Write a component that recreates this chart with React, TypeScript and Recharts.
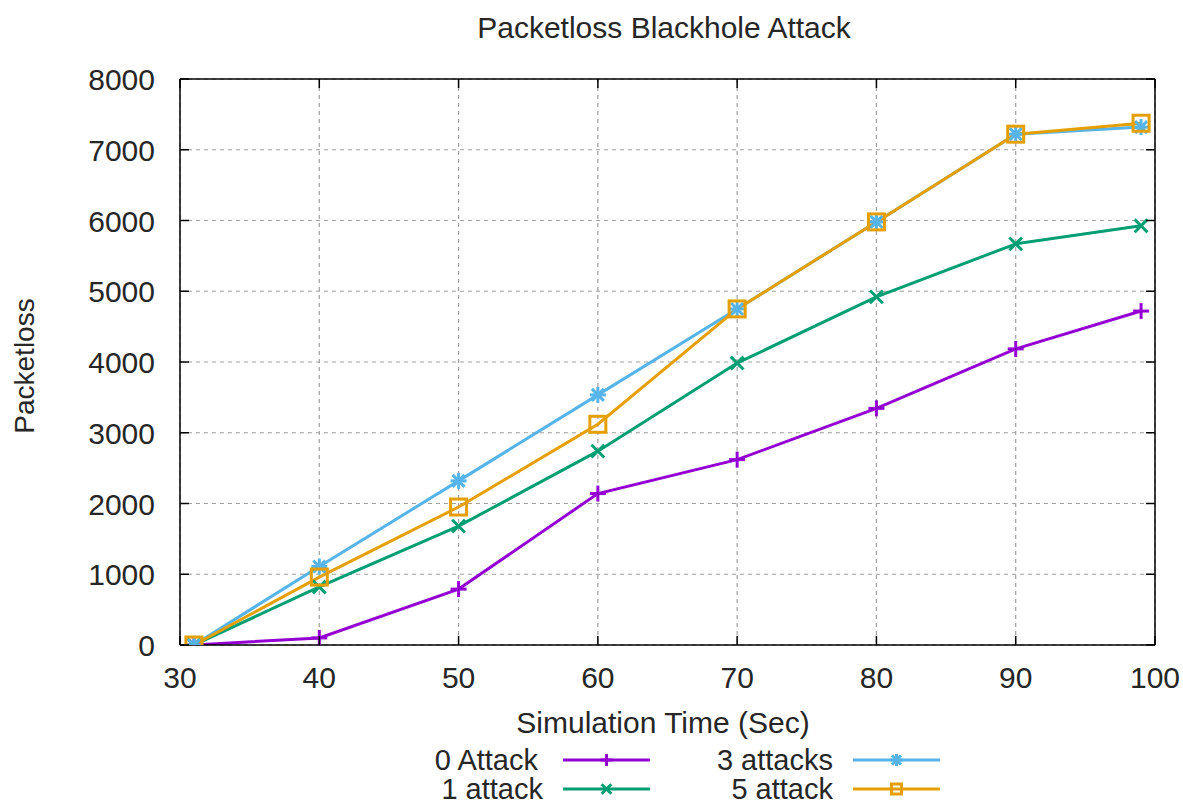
import React from 'react';
import { LineChart, Line, XAxis, YAxis, CartesianGrid } from 'recharts';

// ---- data ----
const times = [31, 40, 50, 60, 70, 80, 90, 99];
const attack0 = [0, 100, 790, 2140, 2620, 3345, 4185, 4720];
const attack1 = [0, 820, 1680, 2740, 3985, 4920, 5670, 5925];
const attack3 = [0, 1110, 2320, 3535, 4750, 5980, 7220, 7320];
const attack5 = [0, 960, 1950, 3120, 4750, 5980, 7220, 7375];
const xTicks = [30, 40, 50, 60, 70, 80, 90, 100];
const yTicks = [0, 1000, 2000, 3000, 4000, 5000, 6000, 7000, 8000];

const titleText = 'Packetloss Blackhole Attack';
const xLabel = 'Simulation Time (Sec)';
const yLabel = 'Packetloss';

type Shape = 'plus' | 'cross' | 'star' | 'square';
const seriesDefs: { key: string; name: string; color: string; shape: Shape; values: number[] }[] = [
  { key: 'a0', name: '0 Attack', color: '#9400D3', shape: 'plus', values: attack0 },
  { key: 'a1', name: '1 attack', color: '#009E73', shape: 'cross', values: attack1 },
  { key: 'a3', name: '3 attacks', color: '#56B4E9', shape: 'star', values: attack3 },
  { key: 'a5', name: '5 attack', color: '#E69F00', shape: 'square', values: attack5 },
];

const data = times.map((t, i) => {
  const row: Record<string, number> = { t };
  seriesDefs.forEach((s) => (row[s.key] = s.values[i]));
  return row;
});

const FONT = '"Liberation Sans", Arial, sans-serif';
const TEXT_COLOR = '#262626';
const FS = 30;

function Marker({ cx, cy, shape, color, r = 8 }: { cx: number; cy: number; shape: Shape; color: string; r?: number }) {
  if (cx == null || cy == null) return null;
  const sw = 3;
  if (shape === 'plus') {
    return (
      <g stroke={color} strokeWidth={sw}>
        <line x1={cx - r} x2={cx + r} y1={cy} y2={cy} />
        <line x1={cx} x2={cx} y1={cy - r} y2={cy + r} />
      </g>
    );
  }
  if (shape === 'cross') {
    const d = r * 0.8;
    return (
      <g stroke={color} strokeWidth={sw}>
        <line x1={cx - d} x2={cx + d} y1={cy - d} y2={cy + d} />
        <line x1={cx - d} x2={cx + d} y1={cy + d} y2={cy - d} />
      </g>
    );
  }
  if (shape === 'star') {
    const d = r * 0.75;
    return (
      <g stroke={color} strokeWidth={sw}>
        <line x1={cx - r} x2={cx + r} y1={cy} y2={cy} />
        <line x1={cx} x2={cx} y1={cy - r} y2={cy + r} />
        <line x1={cx - d} x2={cx + d} y1={cy - d} y2={cy + d} />
        <line x1={cx - d} x2={cx + d} y1={cy + d} y2={cy - d} />
      </g>
    );
  }
  return <rect x={cx - r} y={cy - r} width={2 * r} height={2 * r} fill="none" stroke={color} strokeWidth={sw} />;
}

const BottomTick = (props: any) => {
  const { x, y, payload } = props;
  return (
    <g>
      <line x1={x} x2={x} y1={y} y2={y - 9} stroke="#000" strokeWidth={1.5} />
      <text x={x} y={y + 43} textAnchor="middle" fontFamily={FONT} fontSize={FS} fill={TEXT_COLOR}>
        {payload.value}
      </text>
    </g>
  );
};
const TopTick = (props: any) => {
  const { x, y } = props;
  return <line x1={x} x2={x} y1={y} y2={y + 9} stroke="#000" strokeWidth={1.5} />;
};
const LeftTick = (props: any) => {
  const { x, y, payload } = props;
  return (
    <g>
      <line x1={x} x2={x + 9} y1={y} y2={y} stroke="#000" strokeWidth={1.5} />
      <text x={x - 25} y={y + 11} textAnchor="end" fontFamily={FONT} fontSize={FS} fill={TEXT_COLOR}>
        {payload.value}
      </text>
    </g>
  );
};
const RightTick = (props: any) => {
  const { x, y } = props;
  return <line x1={x} x2={x - 9} y1={y} y2={y} stroke="#000" strokeWidth={1.5} />;
};

const W = 1183;
const H = 805;

export default function App() {
  const legendRows = [
    { s: seriesDefs[0], textX: 538, lineX1: 563, lineX2: 650, y: 760 },
    { s: seriesDefs[1], textX: 543, lineX1: 563, lineX2: 650, y: 789 },
    { s: seriesDefs[2], textX: 833, lineX1: 853, lineX2: 940, y: 760 },
    { s: seriesDefs[3], textX: 833, lineX1: 853, lineX2: 940, y: 789 },
  ];
  return (
    <div style={{ position: 'absolute', left: 0, top: 0, width: W, height: H, background: '#fff' }}>
      <LineChart width={W} height={H} data={data} margin={{ top: 69, right: 17, left: 80, bottom: 120 }}>
        <CartesianGrid xAxisId="b" yAxisId="l" stroke="#a0a0a0" strokeDasharray="4 4" strokeWidth={1.2} />
        <XAxis
          xAxisId="b"
          dataKey="t"
          type="number"
          domain={[30, 100]}
          ticks={xTicks}
          interval={0}
          orientation="bottom"
          height={40}
          tickSize={0}
          tickMargin={0}
          axisLine={{ stroke: '#000', strokeWidth: 1.5 }}
          tickLine={false}
          tick={<BottomTick />}
          allowDataOverflow
        />
        <XAxis
          xAxisId="t"
          dataKey="t"
          type="number"
          domain={[30, 100]}
          ticks={xTicks}
          interval={0}
          orientation="top"
          height={10}
          tickSize={0}
          tickMargin={0}
          axisLine={{ stroke: '#000', strokeWidth: 1.5 }}
          tickLine={false}
          tick={<TopTick />}
          allowDataOverflow
        />
        <YAxis
          yAxisId="l"
          type="number"
          domain={[0, 8000]}
          ticks={yTicks}
          interval={0}
          orientation="left"
          width={100}
          tickSize={0}
          tickMargin={0}
          axisLine={{ stroke: '#000', strokeWidth: 1.5 }}
          tickLine={false}
          tick={<LeftTick />}
          allowDataOverflow
        />
        <YAxis
          yAxisId="r"
          type="number"
          domain={[0, 8000]}
          ticks={yTicks}
          interval={0}
          orientation="right"
          width={11}
          tickSize={0}
          tickMargin={0}
          axisLine={{ stroke: '#000', strokeWidth: 1.5 }}
          tickLine={false}
          tick={<RightTick />}
          allowDataOverflow
        />
        {seriesDefs.map((s) => (
          <Line
            key={s.key}
            xAxisId="b"
            yAxisId="l"
            type="linear"
            dataKey={s.key}
            name={s.name}
            stroke={s.color}
            strokeWidth={3}
            isAnimationActive={false}
            dot={(p: any) => <Marker key={`${s.key}-${p.index}`} cx={p.cx} cy={p.cy} shape={s.shape} color={s.color} />}
            activeDot={false}
          />
        ))}
      </LineChart>
      <svg width={W} height={H} style={{ position: 'absolute', left: 0, top: 0, pointerEvents: 'none' }}>
        <text x={664} y={38} textAnchor="middle" fontFamily={FONT} fontSize={FS} fill={TEXT_COLOR}>
          {titleText}
        </text>
        <text x={663} y={733} textAnchor="middle" fontFamily={FONT} fontSize={FS} fill={TEXT_COLOR}>
          {xLabel}
        </text>
        <text
          x={0}
          y={0}
          transform="translate(34,366) rotate(-90)"
          textAnchor="middle"
          fontFamily={FONT}
          fontSize={28}
          fill={TEXT_COLOR}
        >
          {yLabel}
        </text>
        {legendRows.map((r) => (
          <g key={r.s.key}>
            <text x={r.textX} y={r.y + 10} textAnchor="end" fontFamily={FONT} fontSize={29} fill={TEXT_COLOR}>
              {r.s.name}
            </text>
            <line x1={r.lineX1} x2={r.lineX2} y1={r.y} y2={r.y} stroke={r.s.color} strokeWidth={3} />
            <Marker cx={(r.lineX1 + r.lineX2) / 2} cy={r.y} shape={r.s.shape} color={r.s.color} r={r.s.shape === 'square' ? 5 : 6} />
          </g>
        ))}
      </svg>
    </div>
  );
}
